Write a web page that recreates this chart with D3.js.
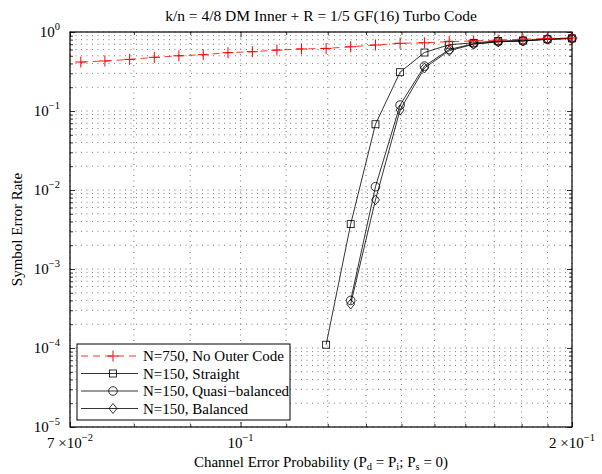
<!DOCTYPE html>
<html>
<head>
<meta charset="utf-8">
<script src="https://cdn.jsdelivr.net/npm/d3@7"></script>
<style>
  body { margin: 0; background: #fff; }
  text { font-family: "Liberation Serif", "DejaVu Serif", serif; fill: #000; }
</style>
</head>
<body>
<div id="chart"></div>
<script>
// channel error probability (x) for every simulated point
let pe = [0.0716, 0.0753, 0.0793, 0.0835, 0.0879, 0.0925, 0.0974, 0.1025, 0.1079, 0.1136, 0.1196,
  0.1259, 0.1326, 0.1396, 0.1469, 0.1547, 0.1628, 0.1714, 0.1805, 0.1900, 0.2]

// symbol error rate, null where a curve has no point
let serNoOuter = [0.417, 0.43, 0.45, 0.478, 0.50, 0.516, 0.547, 0.563, 0.59, 0.61, 0.62,
  0.65, 0.684, 0.72, 0.73, 0.755, 0.77, 0.79, 0.81, 0.83, 0.84]
let serStraight = [null, null, null, null, null, null, null, null, null, null, 1.1e-4,
  3.7e-3, 0.068, 0.31, 0.55, 0.69, 0.73, 0.77, 0.78, 0.81, 0.83]
let serQuasi = [null, null, null, null, null, null, null, null, null, null, null,
  4.0e-4, 0.011, 0.119, 0.37, 0.60, 0.71, 0.755, 0.77, 0.81, 0.83]
let serBalanced = [null, null, null, null, null, null, null, null, null, null, null,
  3.6e-4, 0.0075, 0.103, 0.35, 0.58, 0.70, 0.75, 0.77, 0.81, 0.83]

let seriesNames = ["N=750, No Outer Code", "N=150, Straight", "N=150, Quasi\u2212balanced", "N=150, Balanced"]

let xMajor = [0.07, 0.1, 0.2]
let xMajorLabels = [["7 \u00d710", "\u22122"], ["10", "\u22121"], ["2 \u00d710", "\u22121"]]
let xMinor = [0.08, 0.09, 0.11, 0.12, 0.13, 0.14, 0.15, 0.16, 0.17, 0.18, 0.19]
let yMajor = [1e-5, 1e-4, 1e-3, 1e-2, 1e-1, 1]
let yMajorLabels = ["\u22125", "\u22124", "\u22123", "\u22122", "\u22121", "0"]
let yMinor = []
yMajor.slice(0, 5).forEach(d => { [2, 3, 4, 5, 6, 7, 8, 9].forEach(m => yMinor.push(d * m)) })

let margin = { top: 32, right: 30, bottom: 47, left: 70 }
let W = 602, H = 474
let width = W - margin.left - margin.right
let height = H - margin.top - margin.bottom

let svg = d3.select("#chart").append("svg")
  .attr("width", W).attr("height", H)

let g = svg.append("g").attr("transform", "translate(" + margin.left + "," + margin.top + ")")

let x = d3.scaleLog().domain([0.07, 0.2]).range([0, width])
let y = d3.scaleLog().domain([1e-5, 1]).range([height, 0])

// dotted grid
let grid = g.append("g").attr("stroke", "#444").attr("stroke-width", 0.7).attr("stroke-dasharray", "1,4.5")
grid.selectAll(".gx").data(xMajor.concat(xMinor)).enter().append("line")
  .attr("x1", d => x(d)).attr("x2", d => x(d)).attr("y1", 0).attr("y2", height)
grid.selectAll(".gy").data(yMajor.concat(yMinor)).enter().append("line")
  .attr("y1", d => y(d)).attr("y2", d => y(d)).attr("x1", 0).attr("x2", width)

// ticks (inside, on all four sides)
function tickAxes(axisFn, scale, vals, len, tr) {
  g.append("g").attr("transform", tr)
    .call(axisFn(scale).tickValues(vals).tickSize(len).tickFormat(""))
    .call(s => s.select(".domain").remove())
    .selectAll("line").attr("stroke", "#000").attr("stroke-width", 0.8)
}
tickAxes(d3.axisBottom, x, xMajor, -5, "translate(0," + height + ")")
tickAxes(d3.axisBottom, x, xMinor, -3, "translate(0," + height + ")")
tickAxes(d3.axisTop, x, xMajor, -5, "translate(0,0)")
tickAxes(d3.axisTop, x, xMinor, -3, "translate(0,0)")
tickAxes(d3.axisLeft, y, yMajor, -5, "translate(0,0)")
tickAxes(d3.axisLeft, y, yMinor, -3, "translate(0,0)")
tickAxes(d3.axisRight, y, yMajor, -5, "translate(" + width + ",0)")
tickAxes(d3.axisRight, y, yMinor, -3, "translate(" + width + ",0)")

g.append("rect").attr("width", width).attr("height", height)
  .attr("fill", "none").attr("stroke", "#000").attr("stroke-width", 1.2)

// tick labels
xMajor.forEach((d, i) => {
  let t = g.append("text").attr("x", x(d)).attr("y", height + 21)
    .attr("text-anchor", "middle").style("font-size", "15px")
  t.append("tspan").text(xMajorLabels[i][0])
  t.append("tspan").attr("dy", -7).style("font-size", "10.5px").text(xMajorLabels[i][1])
})
yMajor.forEach((d, i) => {
  let t = g.append("text").attr("x", -10).attr("y", y(d) + 5)
    .attr("text-anchor", "end").style("font-size", "15px")
  t.append("tspan").text("10")
  t.append("tspan").attr("dy", -7).style("font-size", "10.5px").text(yMajorLabels[i])
})

// titles
svg.append("text").attr("x", margin.left + width / 2).attr("y", 21)
  .attr("text-anchor", "middle").style("font-size", "15.5px")
  .text("k/n = 4/8 DM Inner + R = 1/5 GF(16) Turbo Code")

let xt = svg.append("text").attr("x", margin.left + width / 2).attr("y", 467)
  .attr("text-anchor", "middle").style("font-size", "15px")
xt.append("tspan").text("Channel Error Probability (P")
xt.append("tspan").attr("dy", 3).style("font-size", "10.5px").text("d")
xt.append("tspan").attr("dy", -3).text(" = P")
xt.append("tspan").attr("dy", 3).style("font-size", "10.5px").text("i")
xt.append("tspan").attr("dy", -3).text("; P")
xt.append("tspan").attr("dy", 3).style("font-size", "10.5px").text("s")
xt.append("tspan").attr("dy", -3).text(" = 0)")

svg.append("text").attr("transform", "translate(22," + (margin.top + height / 2) + ") rotate(-90)")
  .attr("text-anchor", "middle").style("font-size", "15px").text("Symbol Error Rate")

// markers
function marker(sel, type, color) {
  if (type == "plus") {
    sel.append("path").attr("d", "M-5.5,0H5.5M0,-5.5V5.5").attr("stroke", color).attr("stroke-width", 1)
  } else if (type == "square") {
    sel.append("rect").attr("x", -3.5).attr("y", -3.5).attr("width", 7).attr("height", 7)
      .attr("fill", "none").attr("stroke", color).attr("stroke-width", 0.8)
  } else if (type == "circle") {
    sel.append("circle").attr("r", 4.3).attr("fill", "none").attr("stroke", color).attr("stroke-width", 0.8)
  } else {
    sel.append("path").attr("d", "M0,-5L4,0L0,5L-4,0Z").attr("fill", "none").attr("stroke", color).attr("stroke-width", 0.8)
  }
}

let series = [
  { vals: serStraight, color: "#000", type: "square", dash: null },
  { vals: serQuasi, color: "#000", type: "circle", dash: null },
  { vals: serBalanced, color: "#000", type: "diamond", dash: null },
  { vals: serNoOuter, color: "#ff0000", type: "plus", dash: "7,5" }
]

let line = d3.line().defined(d => d[1] != null).x(d => x(d[0])).y(d => y(d[1]))

series.forEach(s => {
  let pts = pe.map((p, i) => [p, s.vals[i]])
  g.append("path").datum(pts).attr("d", line)
    .attr("fill", "none").attr("stroke", s.color).attr("stroke-width", 0.8)
    .attr("stroke-dasharray", s.dash)
  g.selectAll(null).data(pts.filter(d => d[1] != null)).enter().append("g")
    .attr("transform", d => "translate(" + x(d[0]) + "," + y(d[1]) + ")")
    .each(function () { marker(d3.select(this), s.type, s.color) })
})

// legend
let legendSeries = [series[3], series[0], series[1], series[2]]
let lg = svg.append("g").attr("transform", "translate(77,344)")
lg.append("rect").attr("width", 213).attr("height", 76)
  .attr("fill", "#fff").attr("stroke", "#000").attr("stroke-width", 1)
legendSeries.forEach((s, i) => {
  let yy = 12 + i * 17.5
  lg.append("line").attr("x1", 4).attr("x2", 61).attr("y1", yy).attr("y2", yy)
    .attr("stroke", s.color).attr("stroke-width", 0.8).attr("stroke-dasharray", s.dash)
  let m = lg.append("g").attr("transform", "translate(36," + yy + ")")
  marker(m, s.type, s.color)
  lg.append("text").attr("x", 66).attr("y", yy + 5).style("font-size", "15px").text(seriesNames[i])
})
</script>
</body>
</html>
